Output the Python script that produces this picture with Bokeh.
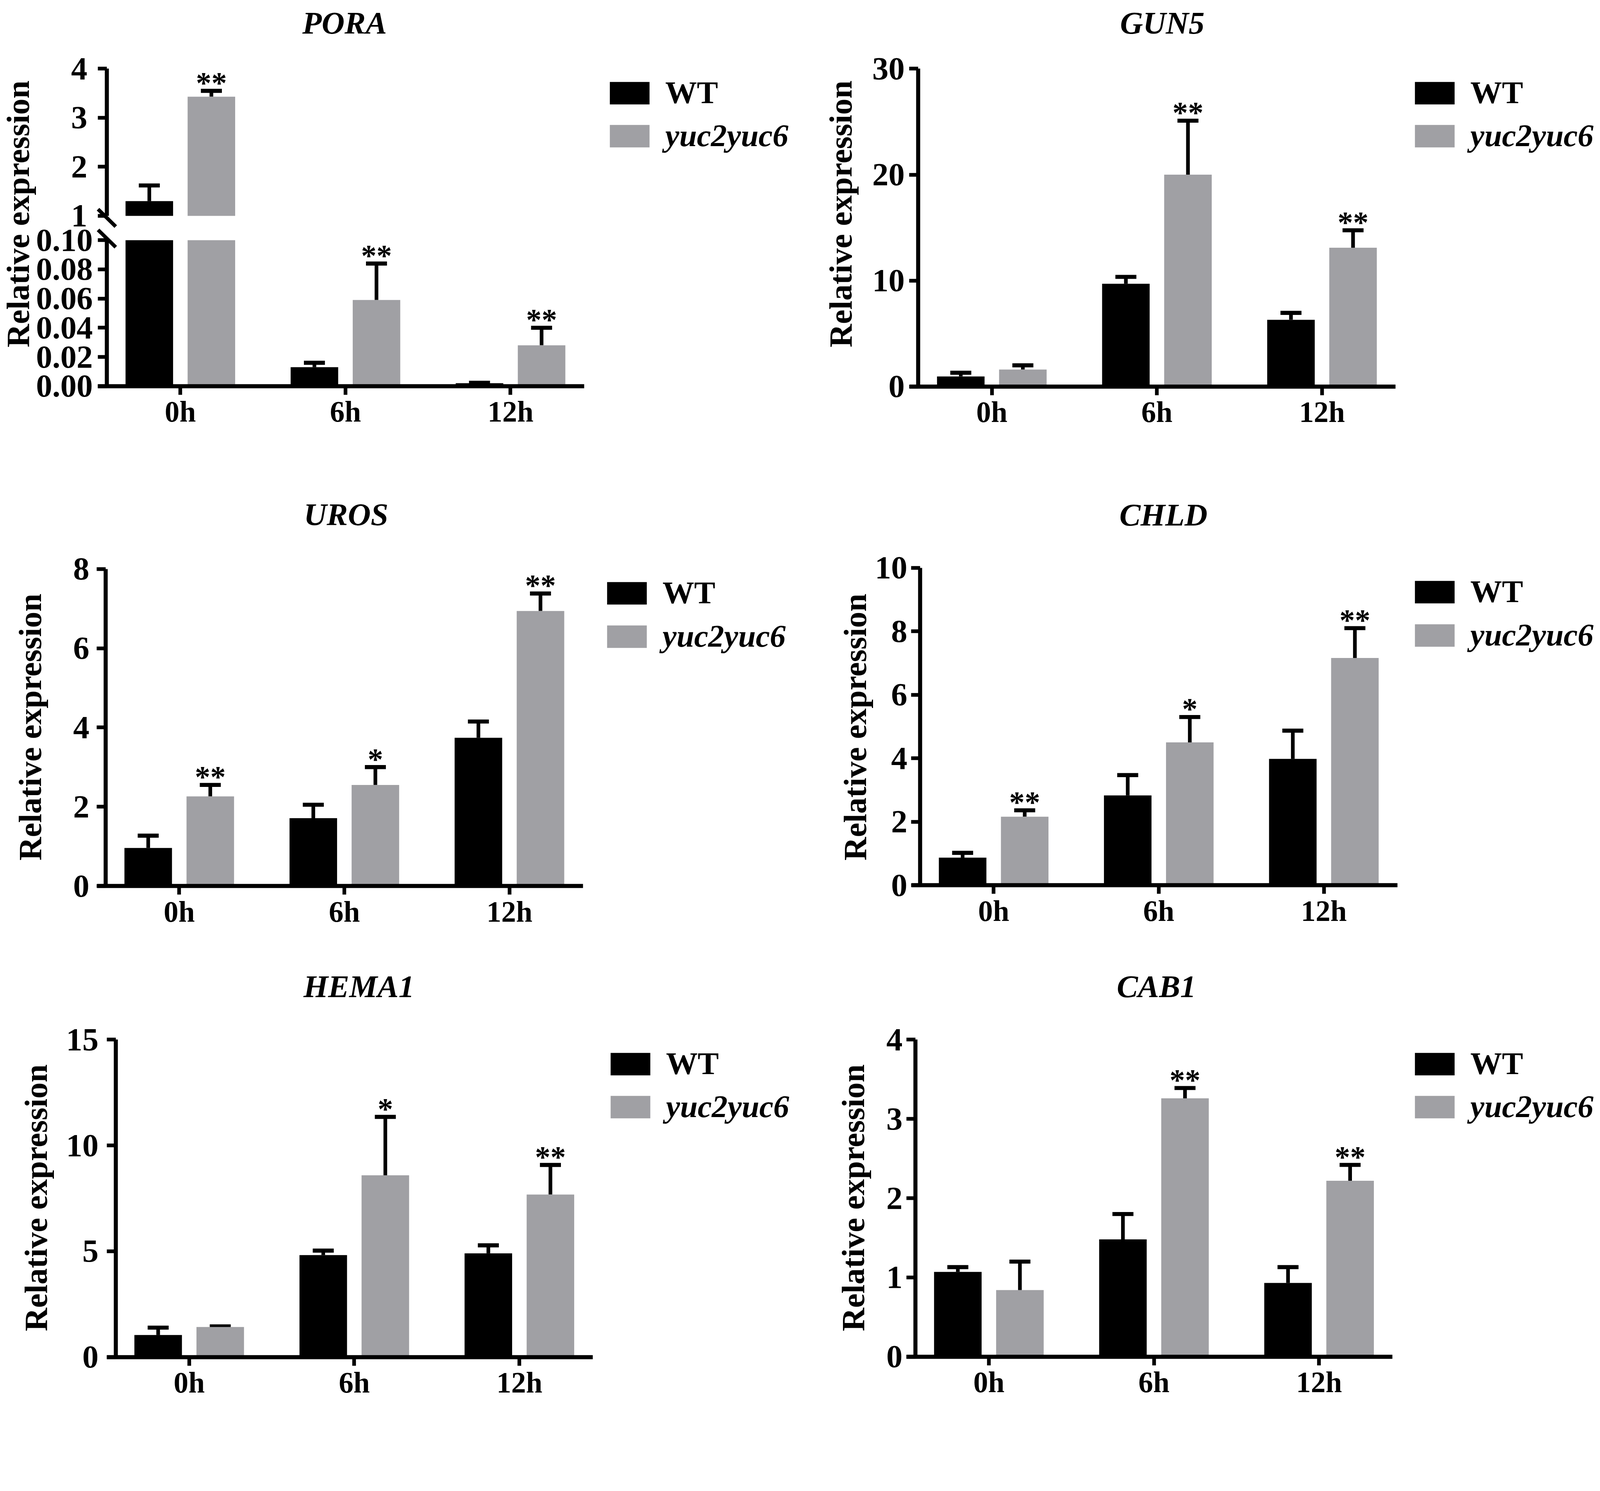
import math
from bokeh.plotting import figure
from bokeh.models import (ColumnDataSource, Range1d, FixedTicker, Whisker, TeeHead, Legend,
                          LegendItem, Label, LinearAxis, Arrow, NumeralTickFormatter,
                          BooleanFilter, CDSView)
from bokeh.transform import dodge
from bokeh.layouts import row, column
from bokeh.core.properties import value
from bokeh.embed import file_html
from bokeh.resources import INLINE

# ---------------- data ----------------
times = ["0h", "6h", "12h"]
genotypes = ["WT", "yuc2yuc6"]

pora_wt = [1.30, 0.013, 0.002]
pora_wt_sd = [0.32, 0.003, 0.0003]
pora_mut = [3.43, 0.059, 0.028]
pora_mut_sd = [0.12, 0.025, 0.012]
pora_stars = ["**", "**", "**"]
pora_low_ticks = [0.0, 0.02, 0.04, 0.06, 0.08, 0.10]
pora_high_ticks = [1, 2, 3, 4]

gun5_wt = [0.95, 9.7, 6.3]
gun5_wt_sd = [0.35, 0.65, 0.65]
gun5_mut = [1.6, 20.0, 13.1]
gun5_mut_sd = [0.4, 5.1, 1.65]
gun5_stars = ["", "**", "**"]
gun5_ticks = [0, 10, 20, 30]

uros_wt = [0.96, 1.71, 3.74]
uros_wt_sd = [0.31, 0.34, 0.41]
uros_mut = [2.26, 2.55, 6.94]
uros_mut_sd = [0.29, 0.45, 0.44]
uros_stars = ["**", "*", "**"]
uros_ticks = [0, 2, 4, 6, 8]

chld_wt = [0.87, 2.83, 3.98]
chld_wt_sd = [0.15, 0.64, 0.89]
chld_mut = [2.16, 4.50, 7.16]
chld_mut_sd = [0.20, 0.80, 0.94]
chld_stars = ["**", "*", "**"]
chld_ticks = [0, 2, 4, 6, 8, 10]

hema1_wt = [1.04, 4.82, 4.90]
hema1_wt_sd = [0.35, 0.21, 0.38]
hema1_mut = [1.42, 8.59, 7.68]
hema1_mut_sd = [0.03, 2.76, 1.40]
hema1_stars = ["", "*", "**"]
hema1_ticks = [0, 5, 10, 15]

cab1_wt = [1.07, 1.48, 0.93]
cab1_wt_sd = [0.06, 0.32, 0.20]
cab1_mut = [0.84, 3.26, 2.22]
cab1_mut_sd = [0.36, 0.13, 0.20]
cab1_stars = ["", "**", "**"]
cab1_ticks = [0, 1, 2, 3, 4]

# ---------------- style / layout constants ----------------
# positions below are in screenshot pixels; F converts them to CSS pixels
F = 1 / 1.06
MARGIN = 8
VOFF = 8.5                  # canvases sit this much higher on screen than the margin suggests


def px(v):
    return v * F


def fs(v):
    return f"{v * F:.2f}px"


FONT = "Liberation Serif"
WT_COLOR = "#000000"
MUT_COLOR = "#a0a0a4"
PPU = 448.0                 # screenshot px per category step
XR0 = -0.445                # x value at the y axis
X_SPAN = 2.89               # visible x-axis span right of the y axis
EXT = 24 / PPU              # x-axis line sticks out left of the y axis
BAR_W = 0.288
OFF = 0.188
YT_SIZE, XT_SIZE = 88, 80
TITLE_SIZE, AXT_SIZE, LEG_SIZE, STAR_SIZE = 86, 88, 86, 84
GLYPH_W, GLYPH_H, LEG_H, GLYPH_TOP = 135, 76, 95, 9
STAR_DY = -23
TITLE_DY = -24

AVAIL_W = round(4350 * F) - 2 * MARGIN
AVAIL_H = round(3816 * F) - 2 * MARGIN
COL_W = [round(2188 * F) - MARGIN]
COL_W.append(AVAIL_W - COL_W[0])
ROW_H = [round(1290 * F) - MARGIN, round(2620 * F) - round(1290 * F)]
ROW_H.append(AVAIL_H - sum(ROW_H))
LEFT = (MARGIN, COL_W[0])
RIGHT = (MARGIN + COL_W[0], COL_W[1])
ROW1 = (MARGIN, ROW_H[0])
ROW2 = (MARGIN + ROW_H[0], ROW_H[1])
ROW3 = (MARGIN + ROW_H[0] + ROW_H[1], ROW_H[2])
S3 = 40


def y_mapper(zero_px, top_px, top_val, base_val=0.0):
    ppu = (zero_px - top_px) / (top_val - base_val)
    return lambda py: base_val + (zero_px - py) / ppu


def style_axis(ax, size, tick_out, standoff):
    ax.axis_line_width = px(11)
    ax.axis_line_color = "black"
    ax.major_tick_line_width = px(10)
    ax.major_tick_line_color = "black"
    ax.major_tick_out = round(px(tick_out))
    ax.major_tick_in = 0
    ax.minor_tick_line_color = None
    ax.major_label_text_font = FONT
    ax.major_label_text_font_style = "bold"
    ax.major_label_text_font_size = fs(size)
    ax.major_label_text_color = "black"
    ax.major_label_standoff = round(px(standoff))


class Cell:
    """A figure whose frame fills its whole canvas; col/rw are CSS (x, w) / (y, h)."""
    def __init__(self, col, rw, axis_x, ym):
        self.css_w, self.css_h = col[1], rw[1]
        self.cx, self.cw = col[0] / F, col[1] / F
        self.cy, self.ch = rw[0] / F - VOFF, rw[1] / F
        self.axis_x = axis_x
        self.ym = ym

    def xd(self, p):
        return XR0 + (p - self.axis_x) / PPU

    def figure(self):
        p = figure(width=self.css_w, height=self.css_h, title=None,
                   x_range=Range1d(self.xd(self.cx), self.xd(self.cx + self.cw)),
                   y_range=Range1d(self.ym(self.cy + self.ch), self.ym(self.cy)),
                   output_backend="svg", toolbar_location=None, min_border=0)
        p.outline_line_color = None
        p.xgrid.visible = False
        p.ygrid.visible = False
        p.background_fill_color = "white"
        p.border_fill_color = "white"
        xa = p.xaxis[0]
        xa.fixed_location = 0
        xa.ticker = FixedTicker(ticks=list(range(len(times))))
        xa.major_label_overrides = {i: t for i, t in enumerate(times)}
        xa.bounds = (XR0 - EXT, XR0 + X_SPAN)
        style_axis(xa, XT_SIZE, 23, 2)
        ya = p.yaxis[0]
        ya.fixed_location = XR0
        return p


def make_source(vals, sds, stars):
    return dict(idx=list(range(len(times))), time=list(times), mean=list(vals),
                upper=[v + s for v, s in zip(vals, sds)], stars=list(stars))


def add_whisker(p, data, off, y_range_name="default"):
    src = ColumnDataSource(data)
    p.add_layout(Whisker(source=src, base=dodge("idx", off), upper="upper", lower="mean",
                         dimension="height", line_width=px(10), line_color="black",
                         upper_head=TeeHead(size=px(57), line_width=px(11), line_color="black"),
                         lower_head=None, y_range_name=y_range_name))


def add_stars(p, data, y_range_name="default"):
    p.text(x=dodge("idx", OFF), y="upper", text="stars", source=ColumnDataSource(data),
           text_font=value(FONT), text_font_style="bold", text_font_size=value(fs(STAR_SIZE)),
           text_align="center", text_baseline="alphabetic", text_color="black",
           y_offset=px(STAR_DY), y_range_name=y_range_name)


def add_texts(p, c, title, title_xy, ylab_xy):
    p.add_layout(Label(x=c.xd(title_xy[0]), y=c.ym(title_xy[1] + TITLE_DY), text=title,
                       text_font=FONT, text_font_style="bold italic",
                       text_font_size=fs(TITLE_SIZE), text_align="center",
                       text_baseline="alphabetic", text_color="black"))
    p.add_layout(Label(x=c.xd(ylab_xy[0]), y=c.ym(ylab_xy[1]), text="Relative expression",
                       text_font=FONT, text_font_style="bold", text_font_size=fs(AXT_SIZE),
                       angle=math.pi / 2, text_align="center", text_baseline="middle",
                       text_color="black"))


def add_legends(p, c, r_wt, r_mut, frame_top, box_x):
    for lab, r, style, top_off in ((genotypes[0], r_wt, "bold", 29),
                                   (genotypes[1], r_mut, "bold italic", 146)):
        leg_top = frame_top + top_off - GLYPH_TOP
        leg = Legend(items=[LegendItem(label=value(lab), renderers=[r])],
                     location=(round(px(box_x - 0.1 * GLYPH_W - c.cx)),
                               round(px((c.cy + c.ch) - (leg_top + LEG_H)))),
                     glyph_width=round(px(GLYPH_W)), glyph_height=round(px(GLYPH_H)),
                     label_standoff=round(px(30)),
                     label_text_font=FONT, label_text_font_style=style,
                     label_text_font_size=fs(LEG_SIZE), label_text_color="black",
                     padding=0, margin=0, spacing=0, border_line_color=None,
                     background_fill_alpha=0)
        p.add_layout(leg)


def simple_panel(title, col, rw, axis_x, zero_px, top_px, ticks, wt, wt_sd, mut, mut_sd, stars,
                 tick_standoff, title_xy, ylab_xy, box_x):
    c = Cell(col, rw, axis_x, y_mapper(zero_px, top_px, ticks[-1], ticks[0]))
    p = c.figure()
    ya = p.yaxis[0]
    ya.ticker = FixedTicker(ticks=ticks)
    ya.bounds = (ticks[0], ticks[-1])
    style_axis(ya, YT_SIZE, 24, tick_standoff)
    d_wt = make_source(wt, wt_sd, [""] * len(times))
    d_mut = make_source(mut, mut_sd, stars)
    r_wt = p.vbar(x=dodge("idx", -OFF), top="mean", bottom=0, width=BAR_W,
                  fill_color=WT_COLOR, line_color=None, source=ColumnDataSource(d_wt))
    r_mut = p.vbar(x=dodge("idx", OFF), top="mean", bottom=0, width=BAR_W,
                   fill_color=MUT_COLOR, line_color=None, source=ColumnDataSource(d_mut))
    add_whisker(p, d_wt, -OFF)
    add_whisker(p, d_mut, OFF)
    add_stars(p, d_mut)
    add_texts(p, c, title, title_xy, ylab_xy)
    add_legends(p, c, r_wt, r_mut, top_px, box_x)
    return p


# ---------------- PORA (broken axis) ----------------
def pora_panel():
    axis_x, zero_px, low_top_px, hi_bot_px, hi_top_px = 298, 1047, 651, 585, 186
    low_max = pora_low_ticks[-1]
    hi0, hi1 = pora_high_ticks[0], pora_high_ticks[-1]
    ym_low = y_mapper(zero_px, low_top_px, low_max, 0.0)
    ym_hi = y_mapper(hi_bot_px, hi_top_px, hi1, hi0)
    c = Cell(LEFT, ROW1, axis_x, ym_low)
    p = c.figure()
    p.extra_y_ranges = {"upper": Range1d(ym_hi(c.cy + c.ch), ym_hi(c.cy))}
    ya = p.yaxis[0]
    ya.ticker = FixedTicker(ticks=pora_low_ticks)
    ya.formatter = NumeralTickFormatter(format="0.00")
    ya.bounds = (0, low_max)
    style_axis(ya, YT_SIZE, 24, 14)
    up = LinearAxis(y_range_name="upper", ticker=FixedTicker(ticks=pora_high_ticks),
                    bounds=(hi0, hi1), fixed_location=XR0)
    style_axis(up, YT_SIZE, 24, 29)
    p.add_layout(up, "left")

    for vals, sds, stars, off, color in ((pora_wt, pora_wt_sd, [""] * 3, -OFF, WT_COLOR),
                                         (pora_mut, pora_mut_sd, pora_stars, OFF, MUT_COLOR)):
        d = make_source(vals, sds, stars)
        d["low_top"] = [min(v, low_max) for v in vals]
        src = ColumnDataSource(d)
        hi_mask = [v > hi0 for v in vals]
        lo_mask = [u < low_max for u in d["upper"]]
        r = p.vbar(x=dodge("idx", off), top="low_top", bottom=0, width=BAR_W,
                   fill_color=color, line_color=None, source=src)
        p.vbar(x=dodge("idx", off), top="mean", bottom=hi0, width=BAR_W,
               fill_color=color, line_color=None, source=src,
               view=CDSView(filter=BooleanFilter(hi_mask)), y_range_name="upper")
        d_hi = {k: [x for x, m in zip(col, hi_mask) if m] for k, col in d.items()}
        d_lo = {k: [x for x, m in zip(col, lo_mask) if m] for k, col in d.items()}
        add_whisker(p, d_hi, off, "upper")
        add_whisker(p, d_lo, off)
        if color == MUT_COLOR:
            add_stars(p, d_hi, "upper")
            add_stars(p, d_lo)
            r_mut = r
        else:
            r_wt = r

    # axis-break marks
    for y0, y1 in ((567, 614), (623, 670)):
        p.add_layout(Arrow(start=None, end=None, x_start=c.xd(axis_x - 24), x_end=c.xd(axis_x + 24),
                           y_start=ym_low(y0), y_end=ym_low(y1), line_width=px(10),
                           line_color="black"))
    add_texts(p, c, "PORA", (943, 86), (57, 580))
    add_legends(p, c, r_wt, r_mut, hi_top_px, 1663)
    return p


pora = pora_panel()
gun5 = simple_panel("GUN5", RIGHT, ROW1, 2500, 1048, 186, gun5_ticks,
                    gun5_wt, gun5_wt_sd, gun5_mut, gun5_mut_sd, gun5_stars, 13,
                    (3162, 86), (2289, 580), 3848)
uros = simple_panel("UROS", LEFT, ROW2, 295, 2403, 1543, uros_ticks,
                    uros_wt, uros_wt_sd, uros_mut, uros_mut_sd, uros_stars, 20,
                    (947, 1419), (90, 1972), 1655)
chld = simple_panel("CHLD", RIGHT, ROW2, 2505, 2401, 1540, chld_ticks,
                    chld_wt, chld_wt_sd, chld_mut, chld_mut_sd, chld_stars, 11,
                    (3165, 1420), (2328, 1972), 3848)
hema1 = simple_panel("HEMA1", LEFT, ROW3, 322, 3721 - S3, 2860 - S3, hema1_ticks,
                     hema1_wt, hema1_wt_sd, hema1_mut, hema1_mut_sd, hema1_stars, 22,
                     (982, 2740 - S3), (105, 3289 - S3), 1665)
cab1 = simple_panel("CAB1", RIGHT, ROW3, 2492, 3720 - S3, 2860 - S3, cab1_ticks,
                    cab1_wt, cab1_wt_sd, cab1_mut, cab1_mut_sd, cab1_stars, 11,
                    (3146, 2740 - S3), (2323, 3289 - S3), 3848)

layout = column(row(pora, gun5), row(uros, chld), row(hema1, cab1))
open("out.html", "w").write(file_html(layout, INLINE))
